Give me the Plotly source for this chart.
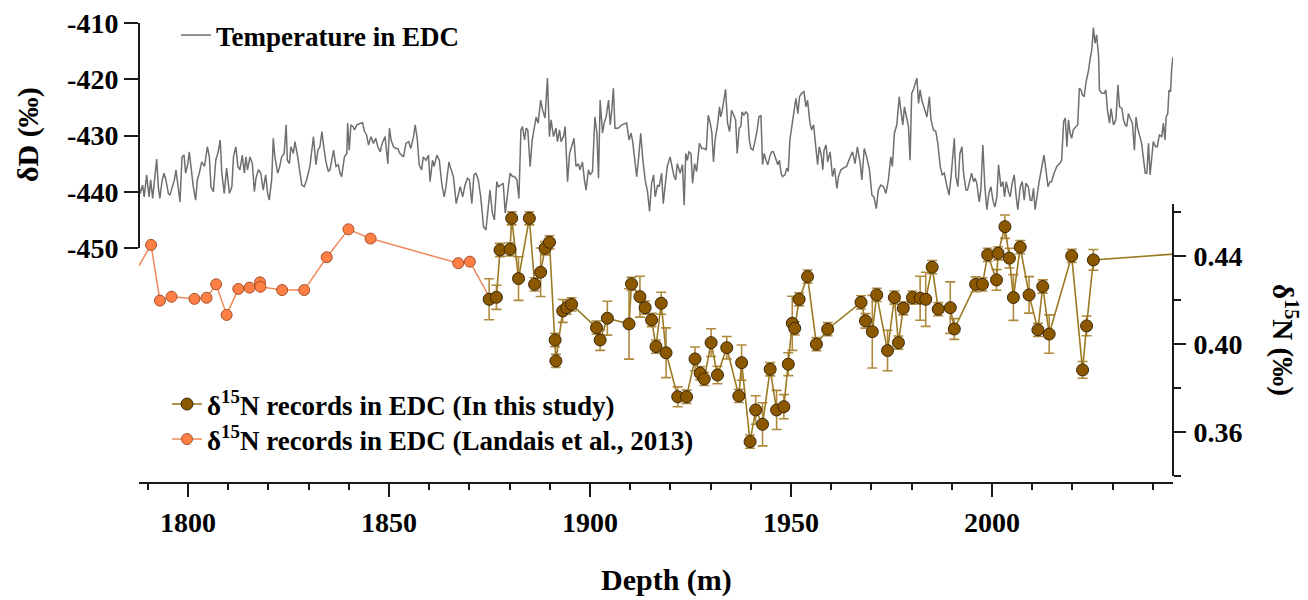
import plotly.graph_objects as go

# ---------------- data ----------------
# Temperature (deltaD) record in EDC
temp_depth = [
    1787.6, 1788.1, 1788.7, 1789.1, 1789.7, 1790.3, 1790.7, 1791.2, 1791.8, 1792.2, 1792.6, 1793.0, 1793.5, 1794.0,
    1794.5, 1795.1, 1795.5, 1796.1, 1796.6, 1797.0, 1797.4, 1798.0, 1798.5, 1799.0, 1799.4, 1799.9, 1800.3, 1800.9,
    1801.3, 1801.9, 1802.3, 1802.8, 1803.4, 1804.1, 1804.8, 1805.3, 1805.7, 1806.3, 1806.9, 1807.5, 1808.0, 1808.4,
    1809.0, 1809.6, 1810.3, 1810.9, 1811.3, 1811.9, 1812.4, 1812.9, 1813.5, 1814.0, 1814.4, 1814.8, 1815.4, 1816.0,
    1816.5, 1816.9, 1817.5, 1818.1, 1818.7, 1819.3, 1819.8, 1820.2, 1820.8, 1821.2, 1821.6, 1822.3, 1822.7, 1823.3,
    1823.9, 1824.4, 1824.7, 1825.2, 1825.6, 1826.2, 1826.6, 1827.2, 1827.7, 1828.3, 1828.9, 1829.5, 1830.3, 1831.2,
    1831.8, 1832.3, 1832.8, 1833.3, 1833.8, 1834.3, 1834.9, 1835.3, 1836.2, 1836.8, 1837.4, 1837.8, 1838.2, 1838.9,
    1839.5, 1839.7, 1840.1, 1840.5, 1841.0, 1841.4, 1842.0, 1842.8, 1843.4, 1843.9, 1844.4, 1844.9, 1845.5, 1846.1,
    1846.7, 1847.2, 1847.8, 1848.3, 1849.0, 1849.7, 1850.1, 1850.5, 1851.1, 1851.7, 1852.2, 1852.7, 1853.6, 1854.2,
    1854.9, 1855.4, 1856.1, 1856.5, 1857.0, 1857.5, 1858.1, 1858.5, 1859.2, 1859.8, 1860.2, 1860.8, 1861.2, 1861.9,
    1862.5, 1863.1, 1863.7, 1864.1, 1864.6, 1864.9,
    1865.2, 1866.0, 1866.7, 1867.2, 1867.7, 1868.3, 1868.9, 1869.5, 1870.0, 1870.6, 1871.1, 1871.6, 1872.2, 1872.8,
    1873.5, 1874.1, 1874.7, 1875.1, 1875.7, 1876.2, 1876.8, 1877.2, 1877.8, 1878.4, 1878.9, 1879.4, 1880.1, 1880.7,
    1881.2, 1881.8, 1882.3, 1882.8, 1883.2, 1883.7, 1884.1, 1884.5, 1885.1, 1885.6, 1886.1, 1886.6, 1887.1, 1887.7,
    1888.2, 1888.8, 1889.4, 1889.9, 1890.3, 1890.9, 1891.5, 1891.9, 1892.4, 1892.8, 1893.4, 1893.8, 1894.4, 1894.9,
    1895.4, 1896.0, 1896.5, 1897.1, 1897.5, 1898.1, 1898.6, 1899.0, 1899.6, 1900.0, 1900.6, 1901.2, 1901.7, 1902.1,
    1902.5, 1903.1, 1903.5, 1904.0, 1904.6, 1905.0, 1905.4, 1905.8, 1906.2, 1907.0, 1907.9, 1908.7, 1909.1, 1909.7,
    1910.2, 1910.6, 1911.2, 1911.6, 1912.1, 1912.6, 1913.1, 1913.7, 1914.3, 1914.8, 1915.3, 1915.8, 1916.2, 1916.8,
    1917.2, 1917.8, 1918.2, 1918.7, 1919.2, 1919.9, 1920.3, 1920.9, 1921.3, 1921.7, 1922.4, 1923.0, 1923.4, 1923.8,
    1924.2, 1924.6, 1925.1, 1925.5, 1926.0, 1926.5, 1927.2, 1927.8, 1928.4, 1928.9, 1929.4, 1929.9, 1930.3, 1930.7,
    1931.1, 1931.7, 1932.2, 1932.5, 1932.9, 1933.3, 1933.7, 1934.2, 1934.7, 1935.2, 1935.7, 1936.2, 1936.6, 1937.1,
    1937.5, 1937.8, 1938.3, 1938.7, 1939.2, 1939.6, 1940.0, 1940.5, 1940.9, 1941.5, 1942.0, 1942.5, 1942.9, 1943.3,
    1943.8, 1944.2, 1944.8, 1945.2, 1945.6, 1946.2, 1946.7, 1947.1, 1947.5, 1947.9, 1948.5, 1948.9, 1949.3, 1949.7,
    1950.3, 1950.8, 1951.2, 1951.7, 1952.1, 1952.6, 1953.2, 1953.7, 1954.1, 1954.7, 1955.1, 1955.6, 1956.1, 1956.6,
    1957.0, 1957.5, 1957.9, 1958.2, 1958.7, 1959.1, 1959.7, 1960.3, 1960.8, 1961.4, 1961.8, 1962.4, 1963.0, 1963.8,
    1964.7, 1965.3, 1965.9, 1966.5, 1967.2, 1967.6, 1968.2, 1968.8, 1969.5, 1970.1, 1970.6, 1971.2, 1971.7, 1972.3,
    1973.0, 1973.6, 1974.2, 1974.8, 1975.2, 1975.7, 1976.3, 1976.9, 1977.3, 1977.8, 1978.2, 1978.6, 1979.2, 1979.6,
    1980.0, 1980.4, 1980.9, 1981.3, 1981.7, 1982.1, 1982.5, 1983.1, 1983.8, 1984.4, 1984.8, 1985.4, 1986.0, 1986.5,
    1987.1, 1987.6, 1988.1, 1988.7, 1989.3, 1989.8, 1990.2, 1990.6, 1991.0, 1991.5, 1992.0, 1992.5, 1992.9, 1993.5,
    1993.9, 1994.4, 1994.9, 1995.4, 1995.8, 1996.2, 1996.8, 1997.2, 1997.7, 1998.2, 1998.7, 1999.2, 1999.7, 2000.2,
    2000.7, 2001.2, 2001.6, 2002.2, 2002.7, 2003.1, 2003.5, 2004.1, 2004.5, 2005.0, 2005.5, 2006.0, 2006.4, 2007.0,
    2007.5, 2008.0, 2008.4, 2009.0, 2009.5, 2009.9, 2010.3, 2010.7, 2011.1, 2011.7, 2012.4, 2012.9, 2013.4, 2013.9,
    2014.4, 2014.8, 2015.4, 2016.1, 2016.8, 2017.3, 2017.8, 2018.2, 2018.6, 2019.0, 2019.4, 2019.8, 2020.2, 2020.9,
    2021.3, 2021.7, 2022.1, 2022.5, 2022.9, 2023.4, 2024.0, 2024.4, 2024.8, 2025.2, 2025.6, 2026.0, 2026.5, 2026.7,
    2027.3, 2027.9, 2028.3, 2028.7, 2029.2, 2029.6, 2030.2, 2030.8, 2031.3, 2031.7, 2032.3, 2032.7, 2033.1, 2033.5,
    2033.9, 2034.3, 2034.9, 2035.4, 2035.8, 2036.2, 2036.8, 2037.2, 2037.6, 2038.1, 2038.5, 2038.9, 2039.3, 2039.7,
    2040.1, 2040.7, 2041.1, 2041.6, 2042.2, 2042.6, 2043.0, 2043.3, 2043.7, 2044.0, 2044.4, 2044.7, 2045.0,
]
temp_dD = [
    -437.9, -440.3, -438.8, -440.9, -437.0, -440.9, -437.9, -441.2, -437.0, -434.2, -439.1, -441.2, -438.2, -436.7,
    -437.9, -440.3, -440.6, -439.1, -437.9, -436.1, -438.5, -441.8, -433.8, -433.5, -436.7, -435.2, -432.9, -436.7,
    -439.1, -441.5, -437.9, -436.7, -434.7, -435.5, -432.0, -433.8, -439.1, -440.0, -434.4, -432.9, -430.8, -436.7,
    -440.3, -435.8, -440.3, -439.1, -433.8, -432.0, -435.5, -436.1, -433.5, -436.7, -433.8, -436.1, -433.8, -435.0,
    -440.0, -437.6, -436.1, -436.7, -439.7, -437.0, -440.3, -441.5, -437.9, -430.5, -433.8, -436.7, -435.8, -433.8,
    -433.2, -428.1, -434.4, -435.0, -432.0, -433.2, -431.1, -433.5, -436.4, -438.8, -439.1, -437.9, -435.5, -430.2,
    -435.2, -432.6, -432.0, -429.3, -432.3, -434.7, -436.4, -436.1, -432.6, -435.5, -435.2, -436.7, -437.3, -433.8,
    -433.2, -427.8, -432.6, -428.1, -428.4, -429.0, -428.1, -427.8, -427.7, -429.3, -429.9, -431.7, -430.2, -431.4,
    -430.5, -432.0, -432.9, -431.4, -430.2, -435.0, -428.7, -430.8, -432.0, -432.3, -432.3, -433.2, -433.8, -431.4,
    -431.1, -432.3, -430.2, -428.1, -430.5, -435.2, -436.1, -433.8, -434.4, -433.5, -438.2, -434.4, -435.5, -433.5,
    -434.4, -438.5, -440.9, -439.4, -436.1, -434.7,
    -435.5, -437.3, -442.1, -440.3, -439.1, -440.9, -438.8, -437.6, -437.9, -442.1, -437.0, -436.7, -437.9, -440.9,
    -446.2, -446.8, -442.1, -439.7, -443.8, -445.0, -438.2, -439.1, -438.8, -438.5, -443.8, -440.9, -436.7, -437.3,
    -437.3, -437.9, -441.2, -429.0, -428.4, -430.8, -428.7, -429.0, -435.5, -430.8, -428.4, -426.7, -427.8, -423.7,
    -425.5, -426.9, -419.8, -430.2, -427.2, -430.2, -428.7, -431.1, -429.0, -431.1, -430.2, -428.4, -438.2, -433.2,
    -432.0, -430.5, -435.5, -435.0, -436.1, -434.7, -437.9, -439.7, -436.1, -437.0, -436.4, -426.7, -429.6, -437.6,
    -423.7, -429.6, -427.8, -426.7, -423.7, -428.1, -425.5, -421.6, -428.7, -428.7, -428.1, -427.8, -427.8, -430.8,
    -429.6, -431.1, -434.7, -437.3, -433.8, -429.6, -434.1, -437.9, -440.0, -443.5, -438.5, -437.0, -440.9, -438.8,
    -439.1, -436.7, -442.1, -438.2, -435.5, -433.8, -435.5, -437.3, -437.9, -435.0, -436.7, -435.2, -442.4, -433.2,
    -434.4, -432.9, -433.2, -438.5, -435.0, -436.4, -431.4, -432.3, -432.3, -432.6, -426.4, -427.8, -429.6, -434.7,
    -430.8, -428.1, -424.9, -426.7, -425.5, -423.7, -421.8, -427.8, -429.3, -425.5, -426.4, -427.2, -433.2, -428.7,
    -428.4, -425.8, -426.4, -425.8, -426.1, -430.8, -432.3, -432.6, -431.4, -429.3, -426.7, -426.4, -435.2, -433.2,
    -434.4, -435.2, -433.5, -432.9, -432.9, -434.4, -435.2, -434.4, -436.7, -437.3, -437.0, -435.8, -436.4, -430.8,
    -428.1, -425.5, -423.4, -426.1, -423.1, -422.5, -422.2, -424.9, -423.7, -427.8, -429.0, -428.1, -432.0, -435.2,
    -432.0, -433.5, -436.1, -432.6, -431.7, -434.7, -432.9, -437.3, -435.8, -439.4, -437.3, -436.1, -435.8, -435.5,
    -433.8, -432.9, -435.0, -432.0, -435.0, -437.9, -432.3, -433.8, -436.1, -440.6, -440.9, -443.0, -439.7, -438.8,
    -439.1, -440.3, -437.9, -433.8, -435.5, -429.6, -428.1, -423.1, -425.5, -428.1, -424.9, -426.4, -428.4, -434.4,
    -422.5, -421.9, -420.7, -419.8, -424.3, -421.9, -423.7, -425.2, -426.7, -423.1, -427.2, -429.0, -429.3, -431.4,
    -435.5, -437.0, -436.7, -438.8, -440.6, -437.3, -434.4, -430.5, -437.3, -439.1, -433.2, -432.0, -436.7, -439.7,
    -439.7, -437.9, -436.7, -438.2, -437.6, -438.5, -441.8, -439.7, -431.7, -439.1, -443.2, -440.3, -439.1, -441.5,
    -442.7, -440.9, -435.2, -439.1, -438.2, -440.9, -438.2, -440.0, -440.9, -438.5, -437.0, -440.9, -443.2, -439.1,
    -438.2, -441.5, -438.5, -439.1, -441.5, -441.5, -439.4, -443.2, -440.9, -438.2, -435.5, -433.5, -436.1, -439.1,
    -438.2, -438.2, -436.7, -435.5, -435.0, -434.4, -427.5, -426.9, -432.0, -427.2, -429.6, -430.5, -429.0, -428.4,
    -428.1, -421.6, -421.9, -422.8, -423.1, -420.4, -418.4, -416.3, -414.8, -410.8, -413.6, -412.1, -416.0, -421.9,
    -422.5, -422.5, -421.9, -425.5, -427.8, -425.2, -428.1, -427.2, -421.0, -424.9, -425.2, -427.2, -428.1, -428.4,
    -426.1, -426.9, -427.8, -432.6, -426.7, -428.7, -430.2, -431.4, -433.8, -436.7, -436.7, -431.4, -437.0, -433.8,
    -431.1, -432.0, -432.0, -429.9, -430.2, -427.8, -430.8, -426.7, -426.1, -421.9, -422.2, -417.8, -416.0,
]

# d15N records in EDC (this study)
study_depth = [
    1874.9, 1876.7, 1877.6, 1880.1, 1880.5, 1882.2, 1884.9, 1886.2, 1887.7, 1888.8, 1889.9, 1891.3, 1891.5, 1893.2,
    1894.2, 1895.4, 1901.6, 1902.5, 1904.3, 1909.7, 1910.3, 1912.4, 1913.7, 1915.3, 1916.4, 1917.7, 1918.9, 1921.8,
    1924.0, 1926.1, 1927.4, 1928.4, 1930.1, 1931.7, 1934.0, 1937.0, 1937.7, 1939.8, 1941.2, 1942.9, 1944.8, 1946.4,
    1948.2, 1949.3, 1950.3, 1950.9, 1952.0, 1954.1, 1956.3, 1959.1, 1967.4, 1968.5, 1970.2, 1971.3, 1974.0, 1975.7,
    1976.7, 1977.9, 1980.2, 1982.1, 1983.5, 1985.1, 1986.6, 1989.6, 1990.6, 1995.9, 1997.6, 1998.9, 2001.1, 2001.5,
    2003.2, 2004.3, 2005.3, 2007.0, 2009.2, 2011.4, 2012.6, 2014.2, 2019.8, 2022.5, 2023.5, 2025.2, 2048.0,
]
study_d15N = [
    0.4203, 0.4212, 0.4427, 0.4430, 0.4571, 0.4297, 0.4571, 0.4271, 0.4326, 0.4435, 0.4462, 0.4018, 0.3923, 0.4150,
    0.4165, 0.4180, 0.4074, 0.4018, 0.4117, 0.4091, 0.4273, 0.4215, 0.4165, 0.4109, 0.3988, 0.4185, 0.3960, 0.3760,
    0.3760, 0.3932, 0.3867, 0.3841, 0.4006, 0.3859, 0.3983, 0.3764, 0.3915, 0.3556, 0.3700, 0.3635, 0.3885, 0.3700,
    0.3715, 0.3908, 0.4094, 0.4071, 0.4203, 0.4306, 0.3999, 0.4067, 0.4189, 0.4105, 0.4056, 0.4223, 0.3970, 0.4211,
    0.4006, 0.4162, 0.4211, 0.4208, 0.4203, 0.4349, 0.4158, 0.4165, 0.4068, 0.4271, 0.4271, 0.4405, 0.4291, 0.4412,
    0.4533, 0.4390, 0.4211, 0.4440, 0.4223, 0.4064, 0.4261, 0.4045, 0.4400, 0.3882, 0.4082, 0.4382, 0.4412,
]
study_err = [
    0.0093, 0.0055, 0.003, 0.003, 0.003, 0.0099, 0.003, 0.003, 0.011, 0.003, 0.003, 0.003, 0.003, 0.0052,
    0.003, 0.003, 0.003, 0.0047, 0.0077, 0.016, 0.003, 0.0093, 0.003, 0.003, 0.003, 0.005, 0.0113, 0.0045,
    0.003, 0.0054, 0.003, 0.003, 0.0063, 0.004, 0.0051, 0.003, 0.008, 0.003, 0.0065, 0.0098, 0.003, 0.0089,
    0.0055, 0.0052, 0.0123, 0.003, 0.003, 0.003, 0.003, 0.003, 0.003, 0.0033, 0.0165, 0.003, 0.0092, 0.003,
    0.003, 0.003, 0.003, 0.010, 0.0123, 0.003, 0.003, 0.0117, 0.0047, 0.0034, 0.003, 0.003, 0.0047, 0.003,
    0.0053, 0.0045, 0.0104, 0.003, 0.0083, 0.003, 0.003, 0.0087, 0.003, 0.0038, 0.0045, 0.0047, 0.0,
]

# d15N records in EDC (Landais et al., 2013)
landais_depth = [1785.0, 1790.8, 1793.0, 1795.9, 1801.6, 1804.6, 1807.0, 1809.6, 1812.5, 1815.3, 1817.9, 1818.0,
                 1823.4, 1828.9, 1834.5, 1839.9, 1845.4, 1867.2, 1870.1, 1875.2]
landais_d15N = [0.4270, 0.4450, 0.4197, 0.4215, 0.4205, 0.4210, 0.4271, 0.4132, 0.4250, 0.4256, 0.4280, 0.4260,
                0.4245, 0.4245, 0.4394, 0.4521, 0.4479, 0.4367, 0.4374, 0.4205]

dD_ticks = [-410, -420, -430, -440, -450]
dD_ticktext = ["-410", "-420", "-430", "-440", "-450"]

# ---------------- styling ----------------
FONT = "Liberation Serif"
W, H = 1308, 600
OFF = 8  # page body margin around the figure
ML, MR, MT, MB = 131, 143, 2, 125
PW, PH = W - ML - MR, H - MT - MB


def px_x(p):
    """screen pixel -> paper fraction (x)"""
    return (p - OFF - ML) / PW


def px_y(p):
    """screen pixel -> paper fraction (y)"""
    return (H - MB - (p - OFF)) / PH


AX = "#1a1a1a"

fig = go.Figure()

fig.add_trace(go.Scatter(
    x=temp_depth, y=temp_dD, mode="lines", name="Temperature in EDC",
    line=dict(color="#6f6f6f", width=1.5), xaxis="x", yaxis="y", legend="legend",
))

fig.add_trace(go.Scatter(
    x=landais_depth, y=landais_d15N, mode="lines+markers",
    name="δ<sup>15</sup>N records in EDC (Landais et al., 2013)",
    line=dict(color="#f0895a", width=1.5),
    marker=dict(size=11, color="#ff7f45", line=dict(color="#a4502a", width=1)),
    xaxis="x", yaxis="y2", legend="legend3",
))

fig.add_trace(go.Scatter(
    x=study_depth, y=study_d15N, mode="lines+markers",
    name="δ<sup>15</sup>N records in EDC (In this study)",
    line=dict(color="#9c7a24", width=1.6),
    marker=dict(size=12, color="#8b5800", line=dict(color="#3a2708", width=1)),
    error_y=dict(type="data", array=study_err, visible=True, color="#b08a3c", thickness=1.6, width=5),
    xaxis="x", yaxis="y2", legend="legend2",
))

tickfont = dict(family=FONT, size=28, color="black", weight="bold")
legfont = dict(family=FONT, size=27, color="black", weight="bold")


def leg(xs, ys):
    return dict(x=px_x(xs), y=px_y(ys), xanchor="left", yanchor="top",
                bgcolor="rgba(0,0,0,0)", borderwidth=0, font=legfont)


fig.update_layout(
    width=W, height=H,
    margin=dict(l=ML, r=MR, t=MT, b=MB, autoexpand=False),
    paper_bgcolor="white", plot_bgcolor="rgba(0,0,0,0)",
    font=dict(family=FONT, color="black"),
    showlegend=True,
    xaxis=dict(
        range=[1787.8, 2045.0], anchor="free", position=0,
        showline=True, linecolor=AX, linewidth=2,
        ticks="outside", ticklen=13, tickwidth=2, tickcolor=AX,
        tick0=1800, dtick=50, tickfont=tickfont, ticklabelstandoff=1,
        minor=dict(ticks="outside", ticklen=6, tickwidth=2, tickcolor=AX, dtick=10, tick0=1800, showgrid=False),
        showgrid=False, zeroline=False,
    ),
    yaxis=dict(
        range=[-450, -410], domain=[px_y(248), px_y(23)],
        anchor="free", position=0,
        showline=True, linecolor=AX, linewidth=2,
        ticks="outside", ticklen=14, tickwidth=2, tickcolor=AX,
        tickvals=dD_ticks, ticktext=dD_ticktext, tickfont=tickfont, ticklabelstandoff=0,
        ticklabeloverflow="allow",
        showgrid=False, zeroline=False,
    ),
    yaxis2=dict(
        range=[0.34, 0.4636], domain=[px_y(476), px_y(204)],
        anchor="free", position=1, side="right",
        showline=True, linecolor=AX, linewidth=2,
        ticks="outside", ticklen=12, tickwidth=2, tickcolor=AX,
        tick0=0.36, dtick=0.04, tickformat=".2f", tickfont=tickfont, ticklabelstandoff=2,
        ticklabeloverflow="allow",
        minor=dict(ticks="outside", ticklen=7, tickwidth=2, tickcolor=AX, dtick=0.02, tick0=0.34, showgrid=False),
        showgrid=False, zeroline=False,
    ),
    legend=leg(176, 11),
    legend2=leg(167, 380),
    legend3=leg(167, 415),
    annotations=[
        dict(text="δD (‰)", x=px_x(28), y=px_y(135), xref="paper", yref="paper",
             textangle=-90, showarrow=False, xanchor="center", yanchor="middle",
             font=dict(family=FONT, size=30, color="black", weight="bold")),
        dict(text="δ<sup>15</sup>N (‰)", x=px_x(1285), y=px_y(340), xref="paper", yref="paper",
             textangle=90, showarrow=False, xanchor="center", yanchor="middle",
             font=dict(family=FONT, size=29, color="black", weight="bold")),
        dict(text="Depth (m)", x=px_x(666), y=px_y(580), xref="paper", yref="paper",
             showarrow=False, xanchor="center", yanchor="middle",
             font=dict(family=FONT, size=30, color="black", weight="bold")),
    ],
)

fig.write_html("out.html")
